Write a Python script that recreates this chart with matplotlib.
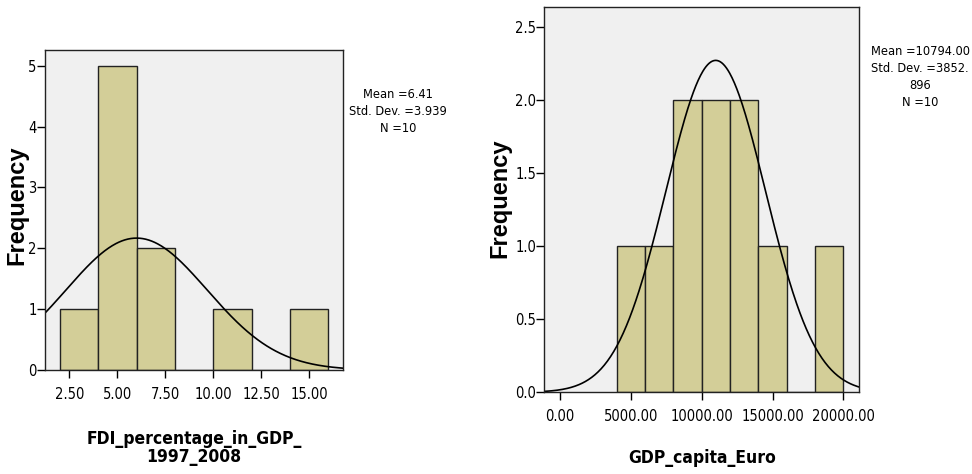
import numpy as np
import matplotlib
matplotlib.use("Agg")
import matplotlib.pyplot as plt
from matplotlib import font_manager as fm

# ---- data ----
fdi_edges = [2, 4, 6, 8, 10, 12, 14, 16]
fdi_counts = [1, 5, 2, 0, 1, 0, 1]
fdi_xticks = [2.5, 5.0, 7.5, 10.0, 12.5, 15.0]
fdi_yticks = [0, 1, 2, 3, 4, 5]
fdi_curve = (6.0, 3.68)          # centre / spread of the drawn normal curve
fdi_stats = "Mean =6.41\nStd. Dev. =3.939\nN =10"

gdp_edges = [4000, 6000, 8000, 10000, 12000, 14000, 16000, 18000, 20000]
gdp_counts = [1, 1, 2, 2, 2, 1, 0, 1]
gdp_xticks = [0, 5000, 10000, 15000, 20000]
gdp_yticks = [0.0, 0.5, 1.0, 1.5, 2.0, 2.5]
gdp_curve = (10990, 3515)
gdp_stats = "Mean =10794.00\nStd. Dev. =3852.\n896\nN =10"

n_obs = 10

# look for a condensed / narrow sans font file
reg_file, bold_file = None, None
for f in fm.fontManager.ttflist:
    low = f.fname.lower()
    if ("narrow" in low or "condensed" in low) and "sans" in low and "mono" not in low and "oblique" not in low and "italic" not in low:
        if f.weight in (700, "bold") or "bold" in low:
            bold_file = bold_file or f.fname
        else:
            reg_file = reg_file or f.fname

if reg_file:
    tick_fp = fm.FontProperties(fname=reg_file, size=10.5)
    stat_fp = fm.FontProperties(fname=reg_file, size=9.2)
else:
    tick_fp = fm.FontProperties(family="Liberation Sans", size=9.5)
    stat_fp = fm.FontProperties(family="Liberation Sans", size=8.5)
if bold_file:
    xlab_fp = fm.FontProperties(fname=bold_file, size=12.5)
else:
    xlab_fp = fm.FontProperties(family="Liberation Sans", weight="bold", size=11.5)
ylab_fp = fm.FontProperties(family="Liberation Sans", weight="bold", size=17)

bar_col = "#d3ce98"
bg_col = "#f0f0f0"

fig = plt.figure(figsize=(9.72, 4.74), dpi=100)


def px(x, y):
    return x / 972, 1 - y / 474


def panel(rect, edges, counts, xticks, yticks, yfmt, xfmt, xlim, ylim, curve):
    ax = fig.add_axes(rect)
    ax.set_facecolor(bg_col)
    edges = np.array(edges, dtype=float)
    ax.bar(edges[:-1], counts, width=np.diff(edges), align="edge",
           color=bar_col, edgecolor="#222222", linewidth=1.0)
    bw = edges[1] - edges[0]
    xs = np.linspace(xlim[0], xlim[1], 400)
    mu, sd = curve
    ys = n_obs * bw / (sd * np.sqrt(2 * np.pi)) * np.exp(-(xs - mu) ** 2 / (2 * sd ** 2))
    ax.plot(xs, ys, color="black", linewidth=1.2)
    ax.set_xlim(*xlim)
    ax.set_ylim(*ylim)
    ax.set_xticks(xticks)
    ax.set_xticklabels([xfmt.format(v) for v in xticks], fontproperties=tick_fp)
    ax.set_yticks(yticks)
    ax.set_yticklabels([yfmt.format(v) for v in yticks], fontproperties=tick_fp)
    ax.tick_params(axis="y", length=6, width=1, pad=0)
    ax.tick_params(axis="x", length=6, width=1, pad=6)
    for s in ax.spines.values():
        s.set_linewidth(1.0)
        s.set_color("#222222")
    return ax


ax1 = panel([0.0463, 0.2194, 0.3066, 0.6751], fdi_edges, fdi_counts, fdi_xticks,
            fdi_yticks, "{:d}", "{:.2f}", (1.23, 16.76), (0, 5.26), fdi_curve)
ax2 = panel([0.560, 0.1724, 0.3238, 0.8122], gdp_edges, gdp_counts, gdp_xticks,
            gdp_yticks, "{:.1f}", "{:.2f}", (-1108, 21108), (0, 2.633), gdp_curve)

# axis titles
fig.text(*px(17, 205), "Frequency", rotation=90, ha="center", va="center",
         fontproperties=ylab_fp)
fig.text(*px(500, 198), "Frequency", rotation=90, ha="center", va="center",
         fontproperties=ylab_fp)
fig.text(*px(194, 448), "FDI_percentage_in_GDP_\n1997_2008", ha="center",
         va="center", fontproperties=xlab_fp, linespacing=0.95)
fig.text(*px(702, 458), "GDP_capita_Euro", ha="center", va="center",
         fontproperties=xlab_fp)

# statistics boxes
fig.text(*px(398, 88), fdi_stats, ha="center", va="top",
         fontproperties=stat_fp, linespacing=1.4)
fig.text(*px(920, 45), gdp_stats, ha="center", va="top",
         fontproperties=stat_fp, linespacing=1.4)

fig.savefig("out.png", dpi=100)
